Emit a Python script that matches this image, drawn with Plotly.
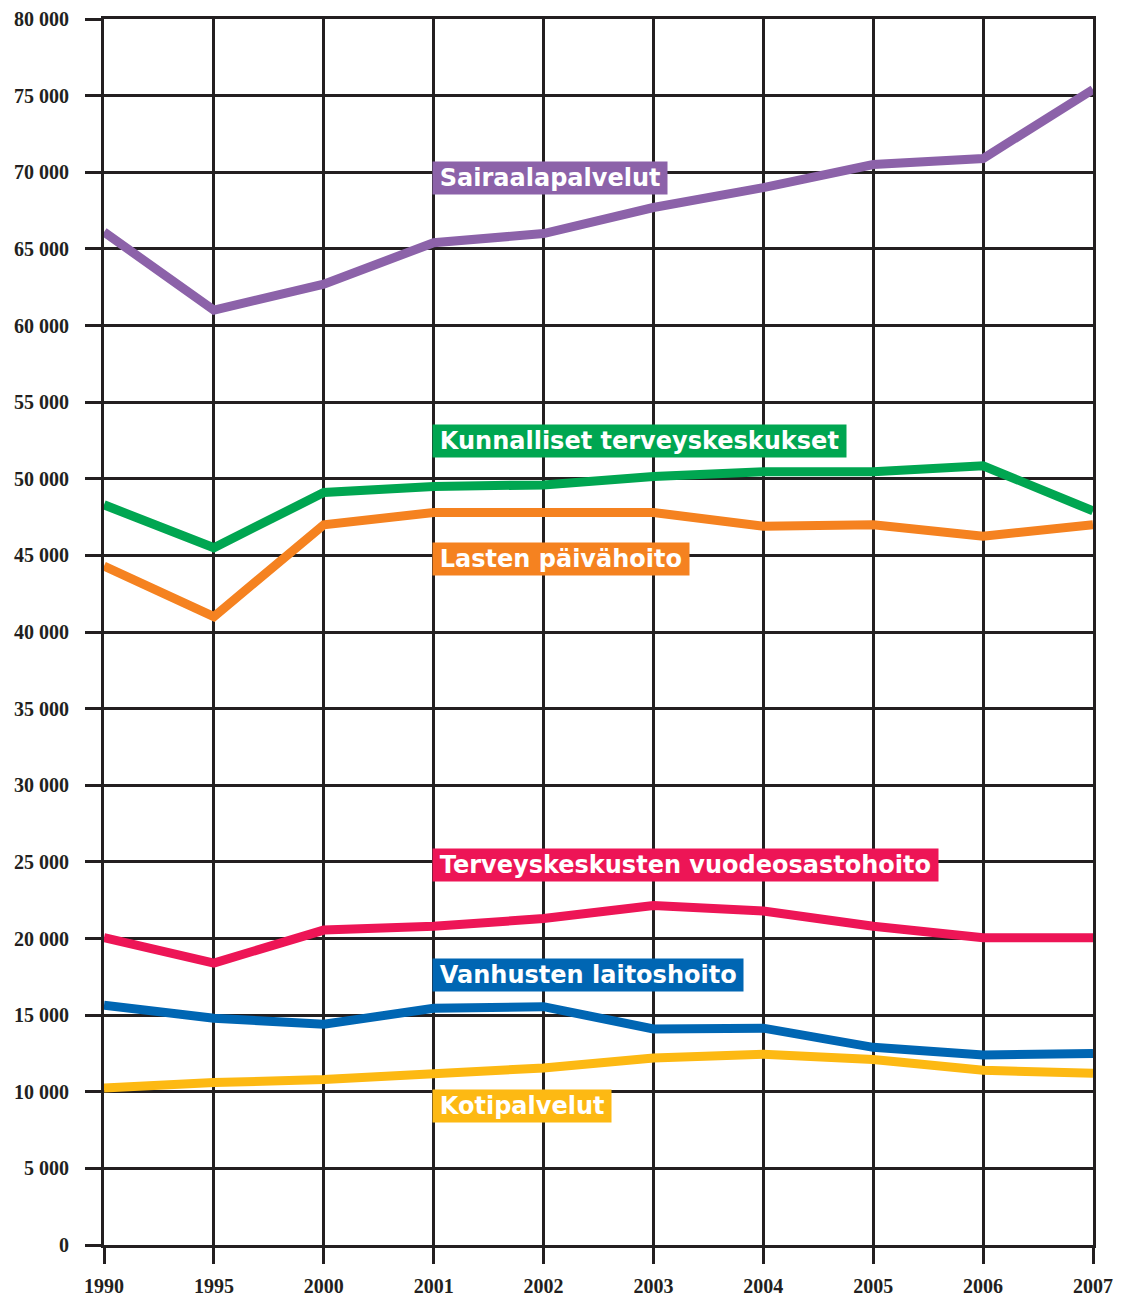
import plotly.graph_objects as go

vuodet = ['1990', '1995', '2000', '2001', '2002', '2003', '2004', '2005', '2006', '2007']

sairaala = [66100, 61000, 62700, 65400, 66000, 67700, 69000, 70500, 70900, 75400]
kunnalliset = [48300, 45500, 49100, 49500, 49600, 50150, 50450, 50450, 50850, 47900]
paivahoito = [44300, 41000, 47000, 47800, 47800, 47800, 46900, 47000, 46250, 47000]
vuodeosasto = [20050, 18400, 20550, 20800, 21300, 22150, 21800, 20800, 20050, 20050]
laitoshoito = [15650, 14800, 14400, 15450, 15550, 14100, 14150, 12900, 12400, 12500]
kotipalvelut = [10250, 10600, 10800, 11150, 11550, 12200, 12450, 12100, 11400, 11200]

y_tikit = list(range(0, 80001, 5000))
y_tekstit = [f'{v // 1000} 000' if v else '0' for v in y_tikit]

sarjat = [
    ('Sairaalapalvelut', sairaala, '#8c62a9', 69600),
    ('Kunnalliset terveyskeskukset', kunnalliset, '#00a651', 52450),
    ('Lasten päivähoito', paivahoito, '#f58220', 44750),
    ('Terveyskeskusten vuodeosastohoito', vuodeosasto, '#ed1556', 24800),
    ('Vanhusten laitoshoito', laitoshoito, '#0066b3', 17650),
    ('Kotipalvelut', kotipalvelut, '#fdb913', 9100),
]

viiva = '#231f20'

fig = go.Figure()
for nimi, arvot, vari, _ in sarjat:
    fig.add_trace(go.Scatter(x=vuodet, y=arvot, mode='lines', name=nimi,
                             line=dict(color=vari, width=9), cliponaxis=False))

# nimilaput: vasen reuna vuoden 2001 pystyviivan kohdalla
# (kategoria-akselilla annotaation x annetaan järjestysnumerona)
x_lappu = vuodet.index('2001')
for nimi, _, vari, y in sarjat:
    fig.add_annotation(x=x_lappu, y=y, text='\u2009' + nimi + '\u2009', showarrow=False,
                       xanchor='left', yanchor='middle', xshift=-2,
                       bgcolor=vari, borderpad=2,
                       font=dict(family='DejaVu Sans', size=24, color='white', weight='bold'))

# sivun body-marginaali (8 px) on huomioitu koossa ja marginaaleissa
fig.update_layout(
    width=1122, height=1289,
    margin=dict(l=96, r=37, t=11, b=52),
    paper_bgcolor='white', plot_bgcolor='white',
    showlegend=False,
    font=dict(family='Liberation Serif', size=20, color=viiva),
)
fig.update_xaxes(type='category', range=[0, 9], automargin=False,
                 showgrid=True, gridcolor=viiva, gridwidth=3,
                 showline=True, linecolor=viiva, linewidth=3, mirror=True,
                 ticks='outside', ticklen=16, tickwidth=3, tickcolor=viiva,
                 ticklabelstandoff=5, ticklabeloverflow='allow',
                 tickfont=dict(weight='bold'), zeroline=False)
fig.update_yaxes(range=[0, 80000], tickvals=y_tikit, ticktext=y_tekstit, automargin=False,
                 showgrid=True, gridcolor=viiva, gridwidth=3,
                 showline=True, linecolor=viiva, linewidth=3, mirror=True,
                 ticks='outside', ticklen=16, tickwidth=3, tickcolor=viiva,
                 ticklabelstandoff=12, ticklabeloverflow='allow',
                 tickfont=dict(weight='bold'), zeroline=False)

fig.write_html("out.html")
